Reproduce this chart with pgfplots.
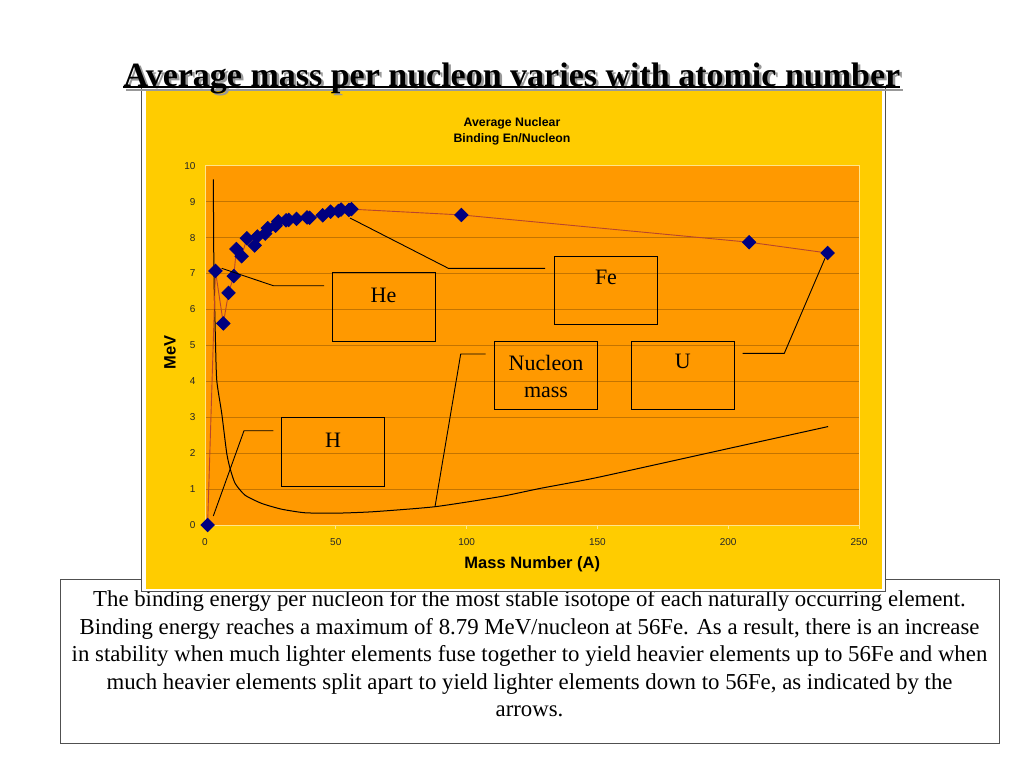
\documentclass[border=0pt]{standalone}
\usepackage{pgfplots}
\pgfplotsset{compat=1.18}
\usepackage{fontspec}
\setmainfont{Liberation Serif}
\newfontfamily\arial{Liberation Sans}
\definecolor{chartyellow}{HTML}{FFCC00}
\definecolor{plotorange}{HTML}{FF9900}
\definecolor{gridc}{HTML}{C47400}
\definecolor{navy}{HTML}{000080}
\definecolor{redline}{HTML}{B8452C}
\definecolor{paleline}{HTML}{FFE58A}
\definecolor{framegray}{HTML}{505050}
\begin{document}
\begin{tikzpicture}[x=1pt,y=1pt]
\useasboundingbox[fill=white] (0,0) rectangle (1024,-768);
% text box
\draw[framegray, line width=0.9pt, fill=white] (60,-579) rectangle (999,-743);
\node[align=center, font=\fontsize{22.8}{27.5}\selectfont, anchor=north] at (529.5,-587) {The binding energy per nucleon for the most stable isotope of each naturally occurring element.\\
Binding energy reaches a maximum of 8.79 MeV/nucleon at 56Fe. As a result, there is an increase\\
in stability when much lighter elements fuse together to yield heavier elements up to 56Fe and when\\
much heavier elements split apart to yield lighter elements down to 56Fe, as indicated by the\\
arrows.};
% chart frame
\draw[framegray, line width=0.9pt, fill=white] (141,-87.5) rectangle (885.5,-591);
\fill[chartyellow] (146,-91) rectangle (882,-589);
\node[align=center, font=\arial\bfseries\fontsize{12.3}{16}\selectfont] at (512,-131) {Average Nuclear\\Binding En/Nucleon};
\begin{axis}[
  at={(205pt,-525pt)}, anchor=south west,
  scale only axis, width=654pt, height=359.3pt,
  xmin=0, xmax=250, ymin=0, ymax=10,
  xtick={0,50,...,250}, ytick={0,1,...,10},
  axis background/.style={fill=plotorange},
  ymajorgrids, grid style={gridc, line width=0.6pt},
  axis line style={draw=paleline, line width=0.8pt},
  x tick style={draw=paleline, line width=0.8pt},
  y tick style={draw=none},
  tick align=outside, major tick length=4pt,
  xtick pos=bottom, ytick pos=left,
  ticklabel style={font=\arial\fontsize{10}{12}\selectfont, text=black!85},
  /pgf/number format/assume math mode=true,
  yticklabel style={xshift=-2pt},
  xticklabel style={yshift=-6pt},
  label style={font=\arial\bfseries\fontsize{16.5}{18}\selectfont},
  xlabel={Mass Number (A)}, ylabel={MeV},
  xlabel style={at={(axis cs:125.1,-1.085)}, anchor=center},
  ylabel style={at={(axis cs:-13.4,4.81)}, anchor=center},
  clip=false,
]
% nucleon mass curve
\addplot[black, line width=1pt, smooth, tension=0.35] coordinates {
(3.18,9.62) (3.40,7.10) (3.9,5.43) (4.48,4.04) (6.39,3.11) (8.30,2.00) (9.56,1.58)
(11.5,1.16) (15.3,0.83) (21.7,0.60) (29.3,0.44) (38.3,0.34) (50.5,0.33) (64.4,0.37)
(88.0,0.51) (112.9,0.79) (128.2,1.02) (149.8,1.32) (200.2,2.13) (238.2,2.74)};
% binding energy per nucleon
\addplot[redline, line width=0.9pt, mark=square*, mark size=4.7pt,
  mark options={fill=navy, draw=navy, rotate=45, solid}] coordinates {
(1,0) (4,7.07) (7,5.61) (9,6.46) (11,6.93) (12,7.68) (14,7.48) (16,7.98)
(19,7.78) (20,8.03) (23,8.11) (24,8.26) (27,8.33) (28,8.45) (31,8.48) (32,8.49)
(35,8.52) (39,8.56) (40,8.55) (45,8.62) (48,8.72) (51,8.74) (52,8.78) (55,8.77)
(56,8.79) (98,8.63) (208,7.87) (238,7.57)};
\end{axis}
% callouts (pixel coordinates)
\begin{scope}[line width=0.9pt, black]
\draw (221.7,-268.3) -- (273.3,-285.7) -- (324,-285.7);
\draw (332.3,-272.7) rectangle (435.3,-341);
\node[font=\fontsize{22}{24}\selectfont] at (383.5,-295) {He};
\draw (213.3,-516) -- (244,-430.7) -- (273.3,-430.7);
\draw (281.7,-417.7) rectangle (384.3,-486.7);
\node[font=\fontsize{22}{24}\selectfont] at (333,-440) {H};
\draw (350,-218) -- (448.3,-268.3) -- (545,-268.3);
\draw (554.3,-256) rectangle (657.3,-324);
\node[font=\fontsize{22}{24}\selectfont] at (606,-277) {Fe};
\draw (435,-506.7) -- (460.7,-354) -- (485.7,-354);
\draw (494.3,-341) rectangle (597.3,-409.3);
\node[align=center, font=\fontsize{22}{27}\selectfont] at (546,-376) {Nucleon\\mass};
\draw (825,-258.3) -- (784.3,-353.3) -- (742.7,-353.3);
\draw (631.7,-341) rectangle (734,-409.3);
\node[font=\fontsize{22}{24}\selectfont] at (682.7,-361) {U};
\end{scope}
% slide title with shadow
\fill[black!40] (125.5,-88.5) rectangle (902.5,-90.5);
\node[font=\bfseries\fontsize{34}{36}\selectfont, text=black!40, anchor=base] at (514.5,-88.5) {Average mass per nucleon varies with atomic number};
\fill[black] (123,-86) rectangle (900,-88);
\node[font=\bfseries\fontsize{34}{36}\selectfont, anchor=base] at (512,-86) {Average mass per nucleon varies with atomic number};
\end{tikzpicture}
\end{document}
